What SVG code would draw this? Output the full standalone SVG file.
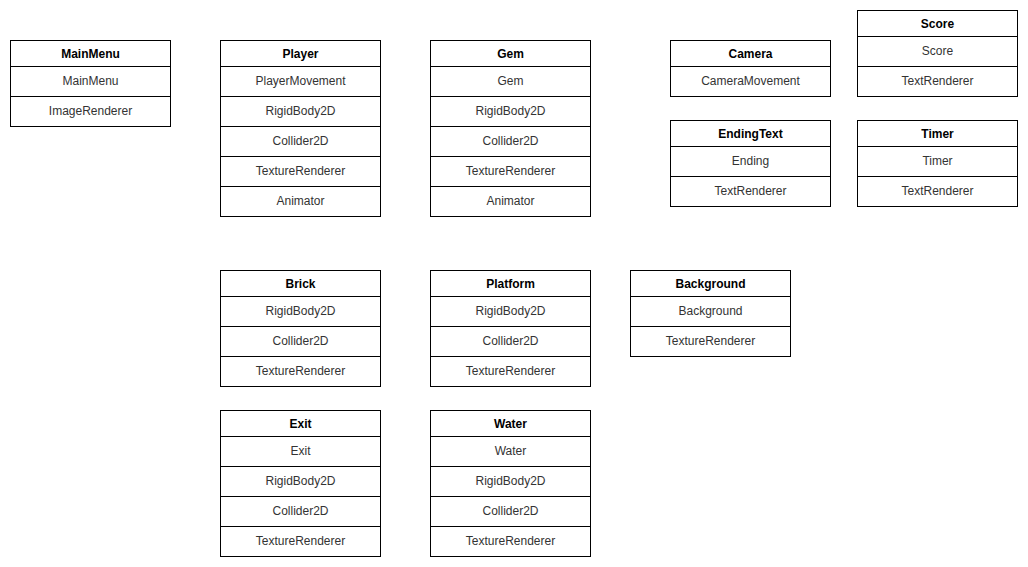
<svg xmlns="http://www.w3.org/2000/svg" width="1028" height="567" viewBox="0 0 1028 567">
<style>
rect{fill:#fff;stroke:#000;stroke-width:1}
line{stroke:#000;stroke-width:1}
text{font-family:"Liberation Sans",Arial,sans-serif;font-size:12px;text-anchor:middle;dominant-baseline:central}
.h{font-weight:bold;fill:#000}
.r{fill:#333}
</style>
<rect x="0" y="0" width="1028" height="567" style="stroke:none"/>
<g id="MainMenu" transform="translate(10.5,40.5)">
<rect width="160" height="86"/><line x1="0" y1="26" x2="160" y2="26"/><line x1="0" y1="56" x2="160" y2="56"/>
<text class="h" x="80" y="13">MainMenu</text><text class="r" x="80" y="40">MainMenu</text><text class="r" x="80" y="70">ImageRenderer</text>
</g>
<g id="Player" transform="translate(220.5,40.5)">
<rect width="160" height="176"/><line x1="0" y1="26" x2="160" y2="26"/><line x1="0" y1="56" x2="160" y2="56"/><line x1="0" y1="86" x2="160" y2="86"/><line x1="0" y1="116" x2="160" y2="116"/><line x1="0" y1="146" x2="160" y2="146"/>
<text class="h" x="80" y="13">Player</text><text class="r" x="80" y="40">PlayerMovement</text><text class="r" x="80" y="70">RigidBody2D</text><text class="r" x="80" y="100">Collider2D</text><text class="r" x="80" y="130">TextureRenderer</text><text class="r" x="80" y="160">Animator</text>
</g>
<g id="Gem" transform="translate(430.5,40.5)">
<rect width="160" height="176"/><line x1="0" y1="26" x2="160" y2="26"/><line x1="0" y1="56" x2="160" y2="56"/><line x1="0" y1="86" x2="160" y2="86"/><line x1="0" y1="116" x2="160" y2="116"/><line x1="0" y1="146" x2="160" y2="146"/>
<text class="h" x="80" y="13">Gem</text><text class="r" x="80" y="40">Gem</text><text class="r" x="80" y="70">RigidBody2D</text><text class="r" x="80" y="100">Collider2D</text><text class="r" x="80" y="130">TextureRenderer</text><text class="r" x="80" y="160">Animator</text>
</g>
<g id="Camera" transform="translate(670.5,40.5)">
<rect width="160" height="56"/><line x1="0" y1="26" x2="160" y2="26"/>
<text class="h" x="80" y="13">Camera</text><text class="r" x="80" y="40">CameraMovement</text>
</g>
<g id="Score" transform="translate(857.5,10.5)">
<rect width="160" height="86"/><line x1="0" y1="26" x2="160" y2="26"/><line x1="0" y1="56" x2="160" y2="56"/>
<text class="h" x="80" y="13">Score</text><text class="r" x="80" y="40">Score</text><text class="r" x="80" y="70">TextRenderer</text>
</g>
<g id="EndingText" transform="translate(670.5,120.5)">
<rect width="160" height="86"/><line x1="0" y1="26" x2="160" y2="26"/><line x1="0" y1="56" x2="160" y2="56"/>
<text class="h" x="80" y="13">EndingText</text><text class="r" x="80" y="40">Ending</text><text class="r" x="80" y="70">TextRenderer</text>
</g>
<g id="Timer" transform="translate(857.5,120.5)">
<rect width="160" height="86"/><line x1="0" y1="26" x2="160" y2="26"/><line x1="0" y1="56" x2="160" y2="56"/>
<text class="h" x="80" y="13">Timer</text><text class="r" x="80" y="40">Timer</text><text class="r" x="80" y="70">TextRenderer</text>
</g>
<g id="Brick" transform="translate(220.5,270.5)">
<rect width="160" height="116"/><line x1="0" y1="26" x2="160" y2="26"/><line x1="0" y1="56" x2="160" y2="56"/><line x1="0" y1="86" x2="160" y2="86"/>
<text class="h" x="80" y="13">Brick</text><text class="r" x="80" y="40">RigidBody2D</text><text class="r" x="80" y="70">Collider2D</text><text class="r" x="80" y="100">TextureRenderer</text>
</g>
<g id="Platform" transform="translate(430.5,270.5)">
<rect width="160" height="116"/><line x1="0" y1="26" x2="160" y2="26"/><line x1="0" y1="56" x2="160" y2="56"/><line x1="0" y1="86" x2="160" y2="86"/>
<text class="h" x="80" y="13">Platform</text><text class="r" x="80" y="40">RigidBody2D</text><text class="r" x="80" y="70">Collider2D</text><text class="r" x="80" y="100">TextureRenderer</text>
</g>
<g id="Background" transform="translate(630.5,270.5)">
<rect width="160" height="86"/><line x1="0" y1="26" x2="160" y2="26"/><line x1="0" y1="56" x2="160" y2="56"/>
<text class="h" x="80" y="13">Background</text><text class="r" x="80" y="40">Background</text><text class="r" x="80" y="70">TextureRenderer</text>
</g>
<g id="Exit" transform="translate(220.5,410.5)">
<rect width="160" height="146"/><line x1="0" y1="26" x2="160" y2="26"/><line x1="0" y1="56" x2="160" y2="56"/><line x1="0" y1="86" x2="160" y2="86"/><line x1="0" y1="116" x2="160" y2="116"/>
<text class="h" x="80" y="13">Exit</text><text class="r" x="80" y="40">Exit</text><text class="r" x="80" y="70">RigidBody2D</text><text class="r" x="80" y="100">Collider2D</text><text class="r" x="80" y="130">TextureRenderer</text>
</g>
<g id="Water" transform="translate(430.5,410.5)">
<rect width="160" height="146"/><line x1="0" y1="26" x2="160" y2="26"/><line x1="0" y1="56" x2="160" y2="56"/><line x1="0" y1="86" x2="160" y2="86"/><line x1="0" y1="116" x2="160" y2="116"/>
<text class="h" x="80" y="13">Water</text><text class="r" x="80" y="40">Water</text><text class="r" x="80" y="70">RigidBody2D</text><text class="r" x="80" y="100">Collider2D</text><text class="r" x="80" y="130">TextureRenderer</text>
</g>
<g id="connectors"/>
</svg>
